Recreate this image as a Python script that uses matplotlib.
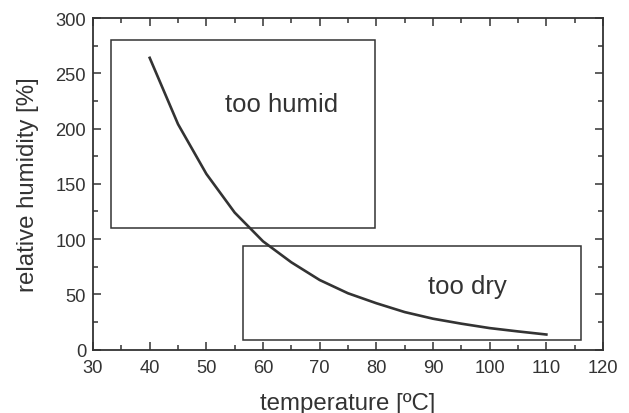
import matplotlib
matplotlib.use('Agg')
import matplotlib.pyplot as plt
from matplotlib.patches import Rectangle
from matplotlib.ticker import MultipleLocator

plt.rcParams['font.family'] = ['Liberation Sans', 'DejaVu Sans']

# curve
temperature = [40, 45, 50, 55, 60, 65, 70, 75, 80, 85, 90, 95, 100, 105, 110]
humidity = [264, 204, 159, 124, 98, 79, 63, 51, 42, 34, 28, 23.5, 19.5, 16.5, 13.7]

# region boxes: (x0, y0, x1, y1) and their label
humid_box = (33.2, 110, 79.7, 280.5)
dry_box = (56.5, 9, 116.1, 93.5)
humid_text = (63.3, 222, 'too humid')
dry_text = (96, 58, 'too dry')

ink = '#333333'

fig = plt.figure(figsize=(6.29, 4.14), dpi=100)
ax = fig.add_axes([0.1479, 0.153, 0.8108, 0.801])

ax.plot(temperature, humidity, color=ink, lw=1.9)

for x0, y0, x1, y1 in (humid_box, dry_box):
    ax.add_patch(Rectangle((x0, y0), x1 - x0, y1 - y0, fill=False,
                           edgecolor=ink, lw=1.1))

for x, y, s in (humid_text, dry_text):
    ax.text(x, y, s, fontsize=18.5, color=ink, ha='center', va='center')

ax.set_xlim(30, 120)
ax.set_ylim(0, 300)
ax.xaxis.set_major_locator(MultipleLocator(10))
ax.xaxis.set_minor_locator(MultipleLocator(5))
ax.yaxis.set_major_locator(MultipleLocator(50))
ax.yaxis.set_minor_locator(MultipleLocator(25))

ax.tick_params(which='both', direction='in', top=True, right=True,
               color=ink, labelcolor=ink, width=1.1)
ax.tick_params(which='major', length=6, labelsize=13.2)
ax.tick_params(axis='x', which='major', pad=7)
ax.tick_params(axis='y', which='major', pad=5)
ax.tick_params(which='minor', length=3.5)
for sp in ax.spines.values():
    sp.set_color(ink)
    sp.set_linewidth(1.3)

ax.set_xlabel('temperature [ºC]', fontsize=17.3, color=ink, labelpad=11)
ax.set_ylabel('relative humidity [%]', fontsize=17.3, color=ink, labelpad=12)

fig.savefig('out.png', dpi=100)
